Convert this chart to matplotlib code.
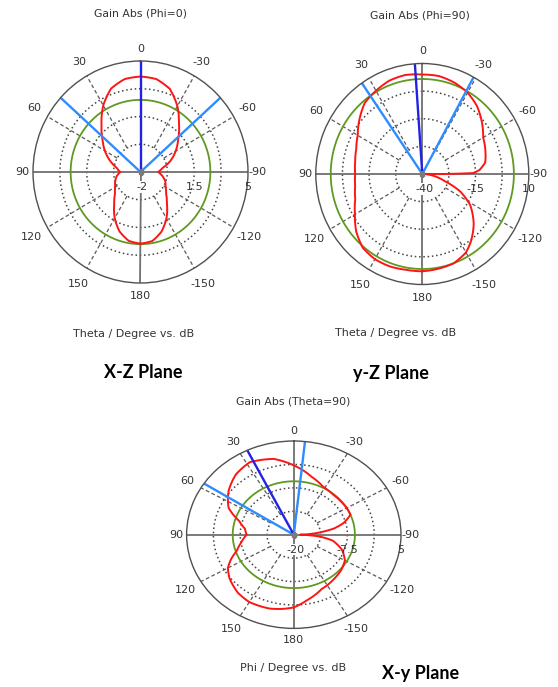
import numpy as np
import matplotlib
matplotlib.use("Agg")
import matplotlib.pyplot as plt

# ---------------- data ----------------
angle_labels = ["0", "30", "60", "90", "120", "150", "180", "-150", "-120", "-90", "-60", "-30"]
angle_pos = [0, 30, 60, 90, 120, 150, 180, -150, -120, -90, -60, -30]

# X-Z plane (Phi=0), dB
theta_xz = [-180, -170, -160, -150, -140, -130, -120, -110, -100, -90, -80, -70, -60, -50, -40, -30,
            -20, -10, 0, 10, 20, 30, 40, 50, 60, 70, 80, 90, 100, 110, 120, 130, 140, 150, 160, 170]
gain_xz = [2.52, 2.42, 2.0, 1.38, 0.68, 0.18, -0.12, -0.28, -0.55, -0.85, -0.55, 0.08, 0.65, 1.2, 1.9, 2.8,
           3.58, 3.95, 4.02, 3.95, 3.6, 2.85, 1.95, 1.24, 0.68, 0.12, -0.42, -0.68, -0.42, -0.24, -0.1, 0.17,
           0.66, 1.36, 1.99, 2.41]
ref_xz = 2.55
beam_dark_xz = [0]
beam_light_xz = [48, -48]
rlabels_xz = ["-2", "1.5", "5"]
rlim_xz = (-2, 5)

# y-Z plane (Phi=90), dB
theta_yz = [-180, -170, -160, -150, -143, -133, -122, -114, -107, -100, -95, -90.5, -89, -86, -80, -70,
            -60, -50, -40, -30, -20, -10, 0, 10, 20, 30, 40, 50, 60, 70, 80, 90, 100, 110, 120, 130,
            140, 150, 160, 170]
gain_yz = [4.0, 3.5, 3.0, 1.0, -2.0, -7.0, -13.5, -20.5, -29.0, -34.0, -37.0, -40.0, -16.0, -13.0, -10.0,
           -8.5, -7.0, -3.5, 0.0, 2.5, 4.0, 5.0, 5.0, 5.5, 5.0, 3.5, 2.0, -1.5, -5.0, -7.0, -8.0, -8.5,
           -8.0, -6.5, -3.5, 0.5, 3.5, 4.5, 4.5, 4.0]
ref_yz = 3.0
beam_dark_yz = [4]
beam_light_yz = [34.6, -28.8]
rlabels_yz = ["-40", "-15", "10"]
rlim_yz = (-40, 10)

# X-y plane (Theta=90), dB
theta_xy = [-180, -170, -156, -140, -130, -120, -110, -100, -95, -90, -85, -80, -75, -68, -60, -50, -40,
            -28, -15, -6, 0, 13, 28, 40, 52, 60, 65, 74, 82, 90, 100, 108, 114, 120, 128, 140, 150, 164, 172]
gain_xy = [-0.6, -2.25, -4.1, -5.0, -5.5, -6.25, -8.0, -10.75, -13.75, -18.5, -14.5, -10.5, -8.0, -5.75,
           -5.75, -5.9, -5.9, -5.5, -4.0, -2.5, -1.5, 0.75, 1.9, 1.0, -0.75, -2.25, -3.25, -6.75, -8.5,
           -9.0, -7.5, -6.0, -4.0, -2.25, -1.0, 0.25, 0.75, 0.5, 0.0]
ref_xy = -5.75
beam_dark_xy = [25.7]
beam_light_xy = [56.9, -6]
rlabels_xy = ["-20", "-7.5", "5"]
rlim_xy = (-20, 5)

# ---------------- styling ----------------
W, H = 558, 687
fig = plt.figure(figsize=(W / 100, H / 100), dpi=100)
fig.patch.set_facecolor("white")

RED = "#ff1414"
GREEN = "#5e9a22"
DBLUE = "#2222e6"
LBLUE = "#2f8cff"
TXT = "#333333"
label_frac = {0: 1.11, 30: 1.14, -30: 1.14, 60: 1.145, -60: 1.145, 90: 1.10, -90: 1.09,
              120: 1.17, -120: 1.17, 150: 1.16, -150: 1.16, 180: 1.12}


def box(cx, cy, rx, ry):
    return [(cx - rx) / W, (H - (cy + ry)) / H, 2 * rx / W, 2 * ry / H]


def panel(b, rlim, theta, gain, ref, dark, light, rlabels):
    rmin, rmax = rlim
    span = rmax - rmin
    ax = fig.add_axes(b, projection="polar")
    ax.set_theta_zero_location("N")
    ax.set_theta_direction(1)
    ax.grid(False)
    ax.set_xticks([])
    ax.set_yticks([])
    ax.spines["polar"].set_color("#505050")
    ax.spines["polar"].set_linewidth(1.0)
    ax.patch.set_facecolor("white")

    circ = np.linspace(0, 2 * np.pi, 721)
    rings = [rmin + span * k / 4 for k in (1, 2, 3)]
    for r in rings:
        ax.plot(circ, np.full_like(circ, r), color="#444444", lw=1.1, ls=(0, (1, 1.8)))
    for a in (30, 60, 120, 150, -30, -60, -120, -150):
        ax.plot([np.deg2rad(a)] * 2, [rings[0], rmax], color="#5a5a5a", lw=0.9, ls=(0, (3, 2)))
    for a in (0, 90, 180, -90):
        ax.plot([np.deg2rad(a)] * 2, [rmin, rmax], color="#707070", lw=1.3)

    ax.plot(circ, np.full_like(circ, ref), color=GREEN, lw=1.3)
    th = np.deg2rad(np.array(theta + [theta[0] + 360]))
    g = np.array(gain + [gain[0]])
    line, = ax.plot(th, g, color=RED, lw=1.4, solid_joinstyle="round")
    line.get_path()._interpolation_steps = 40
    for a in light:
        ax.plot([np.deg2rad(a)] * 2, [rmin, rmax], color=LBLUE, lw=1.7)
    for a in dark:
        ax.plot([np.deg2rad(a)] * 2, [rmin, rmax], color=DBLUE, lw=1.7)
    ax.plot([0], [rmin], marker="s", ms=3.5, color="#7a7a7a")

    for lab, a in zip(angle_labels, angle_pos):
        ax.text(np.deg2rad(a), rmin + label_frac[a] * span, lab, ha="center", va="center",
                fontsize=8, color=TXT, clip_on=False)
    for i, lab in enumerate(rlabels):
        r = rmin + span * i / 2
        kw = {}
        if i == 0:
            kw = dict(bbox=dict(facecolor="white", edgecolor="none", pad=0.5))
        ax.annotate(lab, xy=(np.deg2rad(-90), r), xytext=(2 if i == 0 else 0, -15),
                    textcoords="offset pixels", ha="center", va="center", fontsize=8,
                    color=TXT, annotation_clip=False, **kw)
    ax.set_ylim(rmin, rmax)
    ax.set_aspect("auto")
    return ax


panel(box(140.5, 172, 107.5, 111), rlim_xz, theta_xz, gain_xz, ref_xz,
      beam_dark_xz, beam_light_xz, rlabels_xz)
panel(box(422.3, 174, 106.5, 110.5), rlim_yz, theta_yz, gain_yz, ref_yz,
      beam_dark_yz, beam_light_yz, rlabels_yz)
panel(box(293.8, 534.7, 107.2, 93.7), rlim_xy, theta_xy, gain_xy, ref_xy,
      beam_dark_xy, beam_light_xy, rlabels_xy)


def ftext(x, y, s, **kw):
    fig.text(x / W, 1 - y / H, s, ha="center", va="center", **kw)


ftext(141, 13, "Gain Abs (Phi=0)", fontsize=7.8, color=TXT)
ftext(420, 15, "Gain Abs (Phi=90)", fontsize=7.8, color=TXT)
ftext(293, 401, "Gain Abs (Theta=90)", fontsize=7.8, color=TXT)
ftext(134, 334, "Theta / Degree vs. dB", fontsize=8, color=TXT)
ftext(396, 333, "Theta / Degree vs. dB", fontsize=8, color=TXT)
ftext(293, 668, "Phi / Degree vs. dB", fontsize=8, color=TXT)
ftext(143, 373, "X-Z Plane", fontsize=13, fontweight="bold", family=["Lato", "DejaVu Sans"], color="black")
ftext(391, 373, "y-Z Plane", fontsize=13, fontweight="bold", family=["Lato", "DejaVu Sans"], color="black")
ftext(421, 673, "X-y Plane", fontsize=13, fontweight="bold", family=["Lato", "DejaVu Sans"], color="black")

fig.savefig("out.png", dpi=100, facecolor="white")
